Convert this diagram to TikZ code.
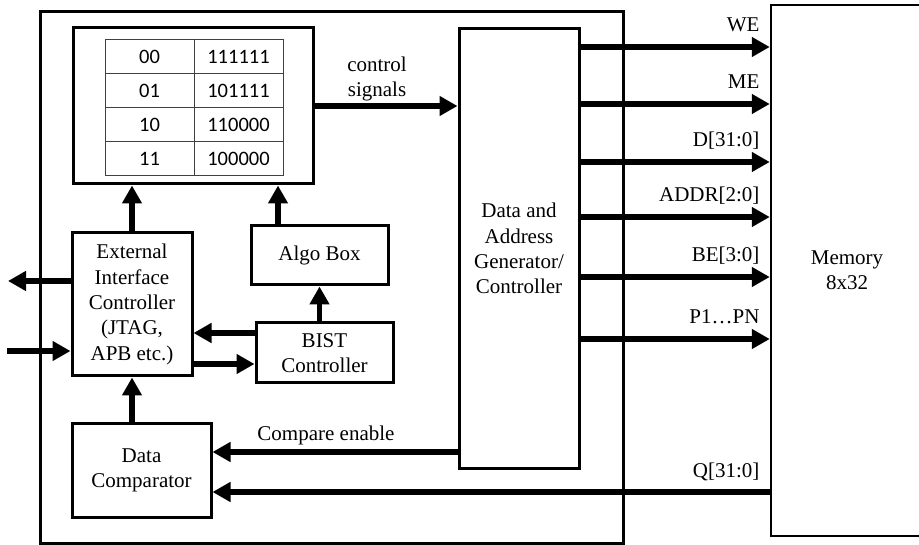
\documentclass[tikz,border=0pt]{standalone}
\usepackage{fontspec}
\setmainfont{Liberation Serif}
\newfontfamily\tabfont{Carlito}
\usetikzlibrary{arrows.meta}

\begin{document}
\begin{tikzpicture}[x=1pt,y=-1pt,font=\fontsize{21}{25.3}\selectfont,
	blk/.style={draw,line width=3pt,align=center,inner sep=0pt},
	bus/.style={line width=5.5pt,-{Triangle[length=18pt,width=19pt]}},
	cell/.style={draw=black!75,line width=1pt,minimum width=89pt,minimum height=34pt,font=\tabfont\fontsize{20.5}{24}\selectfont}]
	\useasboundingbox (0,0) rectangle (919,545);
	% outer BIST block and memory
	\node[blk,minimum width=583pt,minimum height=531pt] (wrap) at (331.5,277.5) {};
	\node[draw,line width=2.5pt,minimum width=152pt,minimum height=531pt,align=center] (mem) at (847,270.5) {Memory\\8x32};
	% pattern table
	\node[blk,minimum width=240pt,minimum height=156pt] (pattab) at (193,106) {};
	\foreach \code/\pat [count=\i] in {00/111111,01/101111,10/110000,11/100000} {
		\node[cell] (c\i a) at (149.5,{23+34*\i}) {\code};
		\node[cell] (c\i b) at (238.5,{23+34*\i}) {\pat};
	}
	% blocks
	\node[blk,minimum width=120pt,minimum height=439pt] (dag) at (519,248.5) {Data and\\Address\\Generator/\\Controller};
	\node[blk,minimum width=120pt,minimum height=143pt] (eic) at (132,304.5) {External\\Interface\\Controller\\(JTAG,\\APB etc.)};
	\node[blk,minimum width=137pt,minimum height=59pt] (algo) at (319.5,255.5) {Algo Box};
	\node[blk,minimum width=137pt,minimum height=60pt] (bist) at (324.5,353) {BIST\\Controller};
	\node[blk,minimum width=139pt,minimum height=93pt] (comp) at (141.5,470.5) {Data\\Comparator};
	\coordinate (extout) at (8,281);
	\coordinate (extin) at (7,351);
	% connections
	\draw[bus] (pattab.east) -- (pattab.east -| dag.west);
	\node[align=center] (ctlbl) at (377,79) {control\\signals};
	\draw[bus] (eic.north) -- (eic.north |- pattab.south);
	\draw[bus] ([xshift=-41.5pt]algo.north) -- ([xshift=-41.5pt]algo.north |- pattab.south);
	\draw[bus] (bist.north -| algo) -- (algo.south);
	\draw[bus] ([yshift=20pt]bist.west) -- ([yshift=20pt]bist.west -| eic.east);
	\draw[bus] ([yshift=-11pt]eic.east |- bist) -- ([yshift=-11pt]bist.west);
	\draw[bus] (eic.west |- extout) -- (extout);
	\draw[bus] (extin) -- (eic.west |- extin);
	\draw[bus] (comp.north -| eic) -- (eic.south);
	\draw[bus] (dag.west |- 0,452) -- (comp.east |- 0,452);
	\node[anchor=base] (cmplbl) at (326,440) {Compare enable};
	\draw[bus] (mem.west |- 0,492) -- (comp.east |- 0,492);
	\node[anchor=base east] (qlbl) at (763,477) {Q[31:0]};
	\foreach \sig/\yy in {WE/47,ME/104,D[31:0]/162,ADDR[2:0]/217,BE[3:0]/277,P1…PN/339} {
		\draw[bus] (dag.east |- 0,\yy) -- (mem.west |- 0,\yy);
		\node[anchor=base east] (s\yy) at (763,{\yy-15.5}) {\sig};
	}
\end{tikzpicture}
\end{document}
